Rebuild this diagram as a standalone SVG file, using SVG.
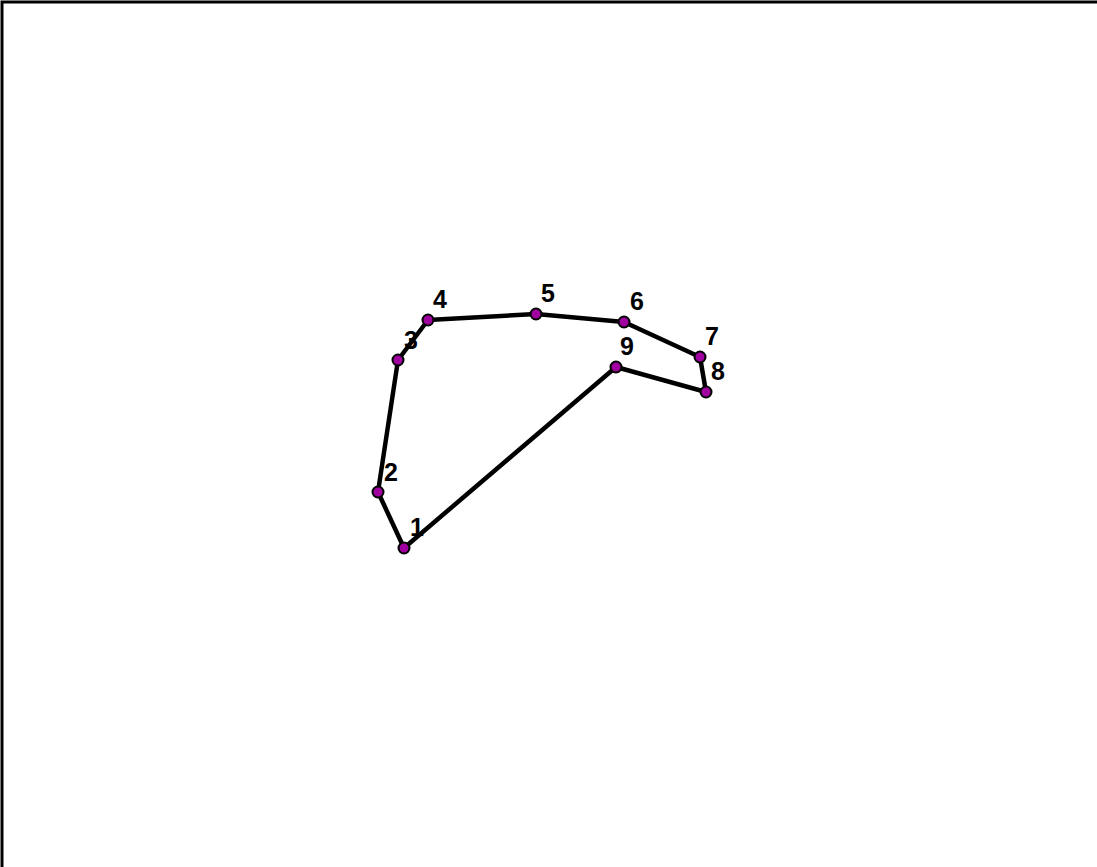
<svg xmlns="http://www.w3.org/2000/svg" width="1097" height="867" viewBox="0 0 1097 867">
<style>
.edge{fill:none;stroke:#000;stroke-width:4.5;stroke-linejoin:round}
.pt{fill:#a000a0;stroke:#000;stroke-width:2}
.lbl{font-family:"Liberation Sans",Arial,sans-serif;font-weight:bold;font-size:25px;fill:#000}
</style>
<rect x="0" y="0" width="1097" height="867" fill="#fff"/>
<rect x="2" y="2" width="1100" height="870" fill="none" stroke="#000" stroke-width="3"/>
<g id="connectors">
<polygon class="edge" points="404,548 378,492 398,360 428,320 536,314 624,322 700,357 706,392 616,367"/>
</g>
<g id="n1"><circle class="pt" cx="404" cy="548" r="5.5"/><text class="lbl" x="410" y="536">1</text></g>
<g id="n2"><circle class="pt" cx="378" cy="492" r="5.5"/><text class="lbl" x="384" y="481">2</text></g>
<g id="n3"><circle class="pt" cx="398" cy="360" r="5.5"/><text class="lbl" x="404" y="349">3</text></g>
<g id="n4"><circle class="pt" cx="428" cy="320" r="5.5"/><text class="lbl" x="433" y="308">4</text></g>
<g id="n5"><circle class="pt" cx="536" cy="314" r="5.5"/><text class="lbl" x="541" y="302">5</text></g>
<g id="n6"><circle class="pt" cx="624" cy="322" r="5.5"/><text class="lbl" x="630" y="310">6</text></g>
<g id="n7"><circle class="pt" cx="700" cy="357" r="5.5"/><text class="lbl" x="705" y="345">7</text></g>
<g id="n8"><circle class="pt" cx="706" cy="392" r="5.5"/><text class="lbl" x="711" y="380">8</text></g>
<g id="n9"><circle class="pt" cx="616" cy="367" r="5.5"/><text class="lbl" x="620" y="355">9</text></g>
</svg>
